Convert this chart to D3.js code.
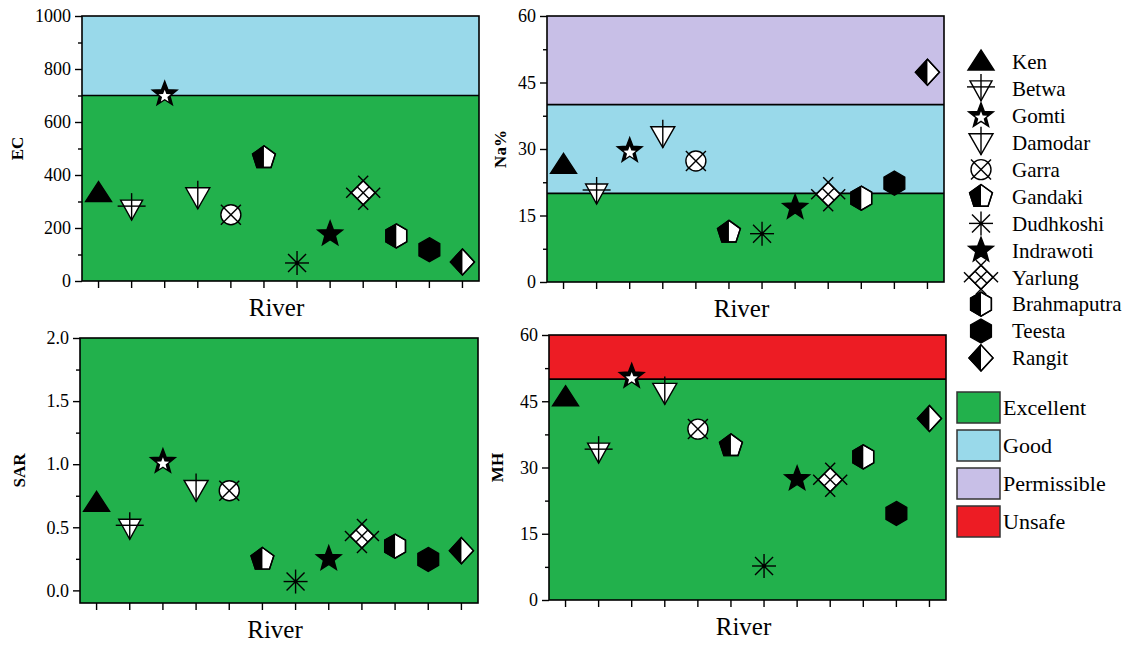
<!DOCTYPE html>
<html lang="en">
<head>
  <meta charset="UTF-8">
  <title>River water quality</title>
  <script src="https://d3js.org/d3.v7.min.js"></script>
  <style>
    body { margin: 0; background: #fff; }
    svg text { font-family: "Liberation Serif", "Times New Roman", serif; }
  </style>
</head>
<body>
<div id="chart"></div>
<script>
// data
const rivers = ["Ken", "Betwa", "Gomti", "Damodar", "Garra", "Gandaki",
  "Dudhkoshi", "Indrawoti", "Yarlung", "Brahmaputra", "Teesta", "Rangit"];
const ecVals  = [330, 275, 705, 318, 250, 465, 68, 177, 333, 170, 118, 72];
const naVals  = [26.3, 20.3, 29.6, 33.0, 27.3, 11.2, 10.9, 16.8, 19.8, 18.9, 22.3, 47.3];
const sarVals = [0.69, 0.50, 1.02, 0.80, 0.79, 0.245, 0.07, 0.25, 0.43, 0.35, 0.245, 0.315];
const mhVals  = [45.8, 33.7, 50.6, 47.0, 38.7, 34.9, 7.7, 27.4, 27.2, 32.4, 19.6, 41.1];

// classes and their ranges per parameter
const classNames = ["Excellent", "Good", "Permissible", "Unsafe"];
const ecZones  = [[0, 700, "Excellent"], [700, 1000, "Good"]];
const naZones  = [[0, 20, "Excellent"], [20, 40, "Good"], [40, 60, "Permissible"]];
const sarZones = [[-0.1, 2, "Excellent"]];
const mhZones  = [[0, 50, "Excellent"], [50, 60, "Unsafe"]];

const ecTicks = [0, 200, 400, 600, 800, 1000];
const ecMinor = [100, 300, 500, 700, 900];
const naTicks = [0, 15, 30, 45, 60];
const naMinor = [7.5, 22.5, 37.5, 52.5];
const sarTicks = [0, 0.5, 1.0, 1.5, 2.0];
const sarMinor = [0.25, 0.75, 1.25, 1.75];
const mhTicks = [0, 15, 30, 45, 60];
const mhMinor = [7.5, 22.5, 37.5, 52.5];

const colors = d3.scaleOrdinal()
  .domain(classNames)
  .range(["#22b14c", "#99d9ea", "#c8bfe7", "#ed1c24"]);

const svg = d3.select("#chart").append("svg")
  .attr("width", 1129)
  .attr("height", 645);

// marker shapes, drawn round (0,0)
function star(R, r) {
  let p = [];
  for (let i = 0; i < 10; i++) {
    let a = -Math.PI / 2 + i * Math.PI / 5;
    let rad = i % 2 == 0 ? R : r;
    p.push([rad * Math.cos(a), rad * Math.sin(a)]);
  }
  return "M" + p.join("L") + "Z";
}
function poly(pts) { return "M" + pts.join("L") + "Z"; }

function drawMarker(g, name) {
  const k = "#000";
  const line = (x1, y1, x2, y2) => g.append("line")
    .attr("x1", x1).attr("y1", y1).attr("x2", x2).attr("y2", y2)
    .attr("stroke", k).attr("stroke-width", 1.4);
  const path = (d, fill) => g.append("path").attr("d", d)
    .attr("fill", fill).attr("stroke", k).attr("stroke-width", 1.4)
    .attr("stroke-linejoin", "miter");

  if (name == "Ken") {
    path(poly([[0, -12], [13, 8], [-13, 8]]), k);
  } else if (name == "Betwa") {
    path(poly([[-11, -8], [11, -8], [0, 12]]), "#fff");
    line(0, -15, 0, 12);
    line(-14, -2, 14, -2);
  } else if (name == "Gomti") {
    path(star(13, 5.5), k);
    g.append("path").attr("d", star(6.5, 2.8)).attr("fill", "#fff")
      .attr("transform", "translate(0,2)");
  } else if (name == "Damodar") {
    path(poly([[-12, -9], [12, -9], [0, 12]]), "#fff");
    line(0, -16, 0, 12);
  } else if (name == "Garra") {
    g.append("circle").attr("r", 10).attr("fill", "#fff")
      .attr("stroke", k).attr("stroke-width", 1.4);
    line(-10, -10, 10, 10);
    line(-10, 10, 10, -10);
  } else if (name == "Gandaki") {
    const R = 12;
    const pts = d3.range(5).map(i => {
      let a = -Math.PI / 2 + i * 2 * Math.PI / 5;
      return [R * Math.cos(a), R * Math.sin(a)];
    });
    path(poly(pts), "#fff");
    g.append("path").attr("d", poly([[0, -R], pts[4], pts[3], [0, pts[3][1]]])).attr("fill", k);
    path(poly(pts), "none");
  } else if (name == "Dudhkoshi") {
    line(0, -12, 0, 12);
    line(-12, 0, 12, 0);
    line(-9, -9, 9, 9);
    line(-9, 9, 9, -9);
    g.append("circle").attr("r", 2).attr("fill", k);
  } else if (name == "Indrawoti") {
    path(star(13, 5.5), k);
  } else if (name == "Yarlung") {
    const r = 12;
    path(poly([[0, -r], [r, 0], [0, r], [-r, 0]]), "#fff");
    const e = 5;
    // edges extended past the vertices, plus middle lines
    line(-r - e, 0 + e, 0 + e, -r - e);
    line(0 - e, -r - e, r + e, 0 + e);
    line(r + e, 0 - e, 0 - e, r + e);
    line(0 + e, r + e, -r - e, 0 - e);
    line(-r / 2, -r / 2, r / 2, r / 2);
    line(-r / 2, r / 2, r / 2, -r / 2);
  } else if (name == "Brahmaputra" || name == "Teesta") {
    const R = 12;
    const pts = d3.range(6).map(i => {
      let a = -Math.PI / 2 + i * Math.PI / 3;
      return [R * Math.cos(a), R * Math.sin(a)];
    });
    if (name == "Teesta") {
      path(poly(pts), k);
    } else {
      path(poly(pts), "#fff");
      g.append("path").attr("d", poly([[0, -R], pts[5], pts[4], [0, R]])).attr("fill", k);
      path(poly(pts), "none");
    }
  } else if (name == "Rangit") {
    const d = [[0, -13], [12, 0], [0, 13], [-12, 0]];
    path(poly(d), "#fff");
    g.append("path").attr("d", poly([[0, -13], [0, 13], [-12, 0]])).attr("fill", k);
    path(poly(d), "none");
  }
}

function drawPanel(p) {
  const x = d3.scaleBand().domain(rivers).range([p.left, p.left + p.width]);
  const y = d3.scaleLinear().domain(p.domain).range([p.top + p.height, p.top]);
  const g = svg.append("g");

  // class bands
  g.selectAll("rect.zone").data(p.zones).enter().append("rect")
    .attr("x", p.left)
    .attr("width", p.width)
    .attr("y", d => y(d[1]))
    .attr("height", d => y(d[0]) - y(d[1]))
    .attr("fill", d => colors(d[2]));

  // band borders
  g.selectAll("line.border").data(p.zones.slice(1)).enter().append("line")
    .attr("x1", p.left).attr("x2", p.left + p.width)
    .attr("y1", d => y(d[0])).attr("y2", d => y(d[0]))
    .attr("stroke", "#000").attr("stroke-width", 1.6);

  g.append("rect")
    .attr("x", p.left).attr("y", p.top)
    .attr("width", p.width).attr("height", p.height)
    .attr("fill", "none").attr("stroke", "#000").attr("stroke-width", 1.6);

  // y axis, major and minor ticks
  const yAxis = g.append("g")
    .attr("transform", "translate(" + p.left + ",0)")
    .call(d3.axisLeft(y).tickValues(p.ticks).tickSize(7).tickPadding(4).tickFormat(p.fmt));
  yAxis.select(".domain").remove();
  yAxis.selectAll("text").attr("font-size", 18).attr("fill", "#000")
    .style("font-family", "Liberation Serif");
  yAxis.selectAll("line").attr("stroke-width", 1.4);

  const yMinor = g.append("g")
    .attr("transform", "translate(" + p.left + ",0)")
    .call(d3.axisLeft(y).tickValues(p.minor).tickSize(4).tickFormat(""));
  yMinor.select(".domain").remove();
  yMinor.selectAll("line").attr("stroke-width", 1.4);

  // x axis (ticks only)
  const xAxis = g.append("g")
    .attr("transform", "translate(0," + (p.top + p.height) + ")")
    .call(d3.axisBottom(x).tickSize(7).tickFormat(""));
  xAxis.select(".domain").remove();
  xAxis.selectAll("line").attr("stroke-width", 1.4);

  // labels
  g.append("text")
    .attr("transform", "translate(" + p.labelX + "," + (p.top + p.height / 2) + ") rotate(-90)")
    .attr("text-anchor", "middle")
    .attr("dy", "0.35em")
    .attr("font-size", 17)
    .attr("font-weight", "bold")
    .text(p.label);

  g.append("text")
    .attr("x", p.left + p.width / 2 - 4)
    .attr("y", p.top + p.height + 35)
    .attr("text-anchor", "middle")
    .attr("font-size", 25)
    .text("River");

  // points
  p.values.forEach((v, i) => {
    const m = g.append("g")
      .attr("transform", "translate(" + (x(rivers[i]) + x.bandwidth() / 2) + "," + y(v) + ")");
    drawMarker(m, rivers[i]);
  });
}

const panels = [
  { left: 82, top: 16, width: 397, height: 265, domain: [0, 1000], zones: ecZones,
    ticks: ecTicks, minor: ecMinor, fmt: d3.format("d"), label: "EC", labelX: 17, values: ecVals },
  { left: 547, top: 16, width: 397, height: 266, domain: [0, 60], zones: naZones,
    ticks: naTicks, minor: naMinor, fmt: d3.format("d"), label: "Na%", labelX: 500, values: naVals },
  { left: 80, top: 338, width: 398, height: 265, domain: [-0.1, 2], zones: sarZones,
    ticks: sarTicks, minor: sarMinor, fmt: d3.format(".1f"), label: "SAR", labelX: 19, values: sarVals },
  { left: 549, top: 335, width: 397, height: 265, domain: [0, 60], zones: mhZones,
    ticks: mhTicks, minor: mhMinor, fmt: d3.format("d"), label: "MH", labelX: 497, values: mhVals }
];
panels.forEach(drawPanel);

// legend: rivers
const leg = svg.append("g");
rivers.forEach((r, i) => {
  const yy = 62 + i * 26.9;
  drawMarker(leg.append("g").attr("transform", "translate(981," + yy + ")"), r);
  leg.append("text")
    .attr("x", 1012).attr("y", yy).attr("dy", "0.35em")
    .attr("font-size", 21)
    .text(r);
});

// legend: classes
classNames.forEach((c, i) => {
  const yy = 392 + i * 38;
  leg.append("rect")
    .attr("x", 957).attr("y", yy)
    .attr("width", 43).attr("height", 31)
    .attr("fill", colors(c))
    .attr("stroke", "#333").attr("stroke-width", 1.5);
  leg.append("text")
    .attr("x", 1003).attr("y", yy + 15.5).attr("dy", "0.35em")
    .attr("font-size", 22)
    .text(c);
});
</script>
</body>
</html>
